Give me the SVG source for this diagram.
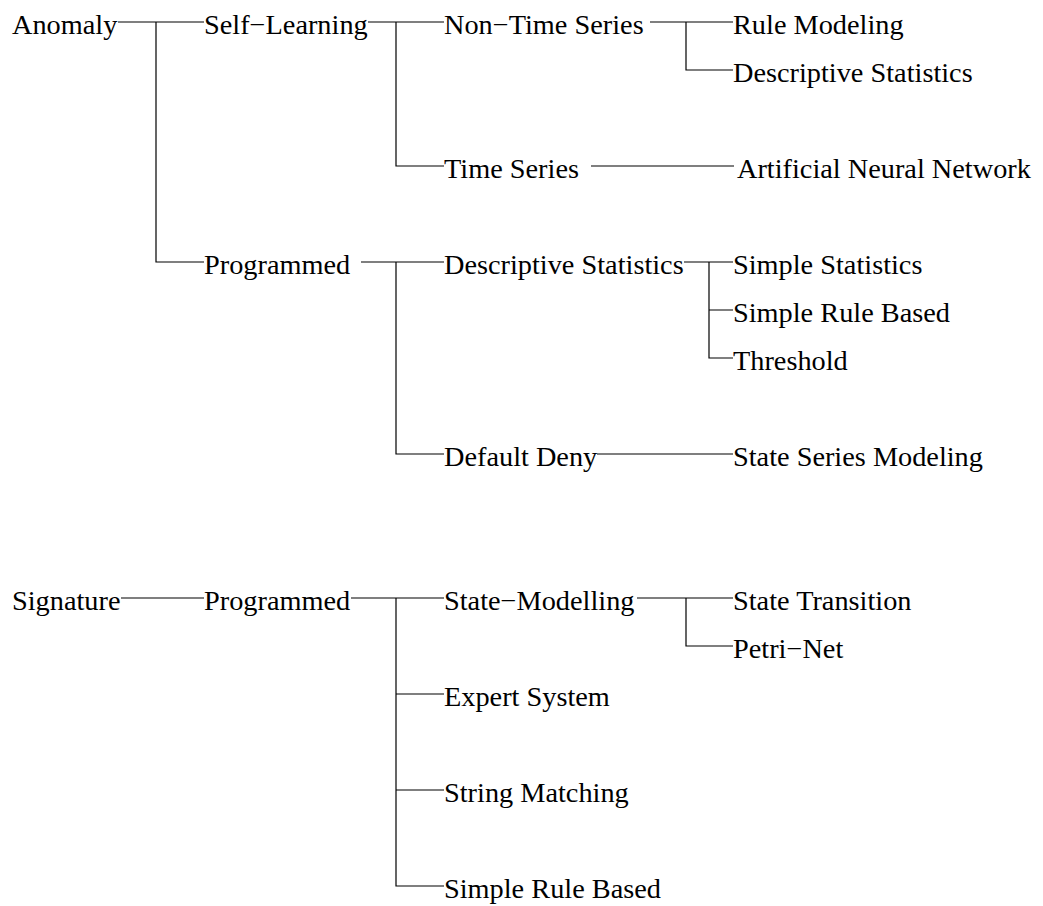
<svg xmlns="http://www.w3.org/2000/svg" width="1043" height="906" viewBox="0 0 1043 906">
<style>
text{font-family:"Liberation Serif","Times New Roman",serif;font-size:28.3px;fill:#000}
.c{fill:none;stroke:#000;stroke-width:1.2}
</style>
<rect width="1043" height="906" fill="#fff"/>
<g id="connectors" class="c">
<path d="M118,22H204M156,22V262H204"/>
<path d="M368,22H444M396,22V166H444"/>
<path d="M650,22H733M686,22V70H733"/>
<path d="M591,166H734"/>
<path d="M361,262H444M396,262V454H444"/>
<path d="M684,262H733M709,262V358H733M709,310H733"/>
<path d="M597,454H733"/>
<path d="M121,598H204"/>
<path d="M351,598H444M396,598V886H444M396,694H444M396,790H444"/>
<path d="M637,598H733M686,598V646H733"/>
</g>
<g id="n-anomaly"><text x="12" y="34">Anomaly</text></g>
<g id="n-selflearning"><text x="204" y="34">Self−Learning</text></g>
<g id="n-nontimeseries"><text x="444" y="34">Non−Time Series</text></g>
<g id="n-rulemodeling"><text x="733" y="34">Rule Modeling</text></g>
<g id="n-descstats1"><text x="733" y="82">Descriptive Statistics</text></g>
<g id="n-timeseries"><text x="444" y="178">Time Series</text></g>
<g id="n-ann"><text x="737" y="178">Artificial Neural Network</text></g>
<g id="n-programmed1"><text x="204" y="274">Programmed</text></g>
<g id="n-descstats2"><text x="444" y="274">Descriptive Statistics</text></g>
<g id="n-simplestats"><text x="733" y="274">Simple Statistics</text></g>
<g id="n-simplerule1"><text x="733" y="322">Simple Rule Based</text></g>
<g id="n-threshold"><text x="733" y="370">Threshold</text></g>
<g id="n-defaultdeny"><text x="444" y="466">Default Deny</text></g>
<g id="n-stateseries"><text x="733" y="466">State Series Modeling</text></g>
<g id="n-signature"><text x="12" y="610">Signature</text></g>
<g id="n-programmed2"><text x="204" y="610">Programmed</text></g>
<g id="n-statemodelling"><text x="444" y="610">State−Modelling</text></g>
<g id="n-statetransition"><text x="733" y="610">State Transition</text></g>
<g id="n-petrinet"><text x="733" y="658">Petri−Net</text></g>
<g id="n-expertsystem"><text x="444" y="706">Expert System</text></g>
<g id="n-stringmatching"><text x="444" y="802">String Matching</text></g>
<g id="n-simplerule2"><text x="444" y="898">Simple Rule Based</text></g>
</svg>
